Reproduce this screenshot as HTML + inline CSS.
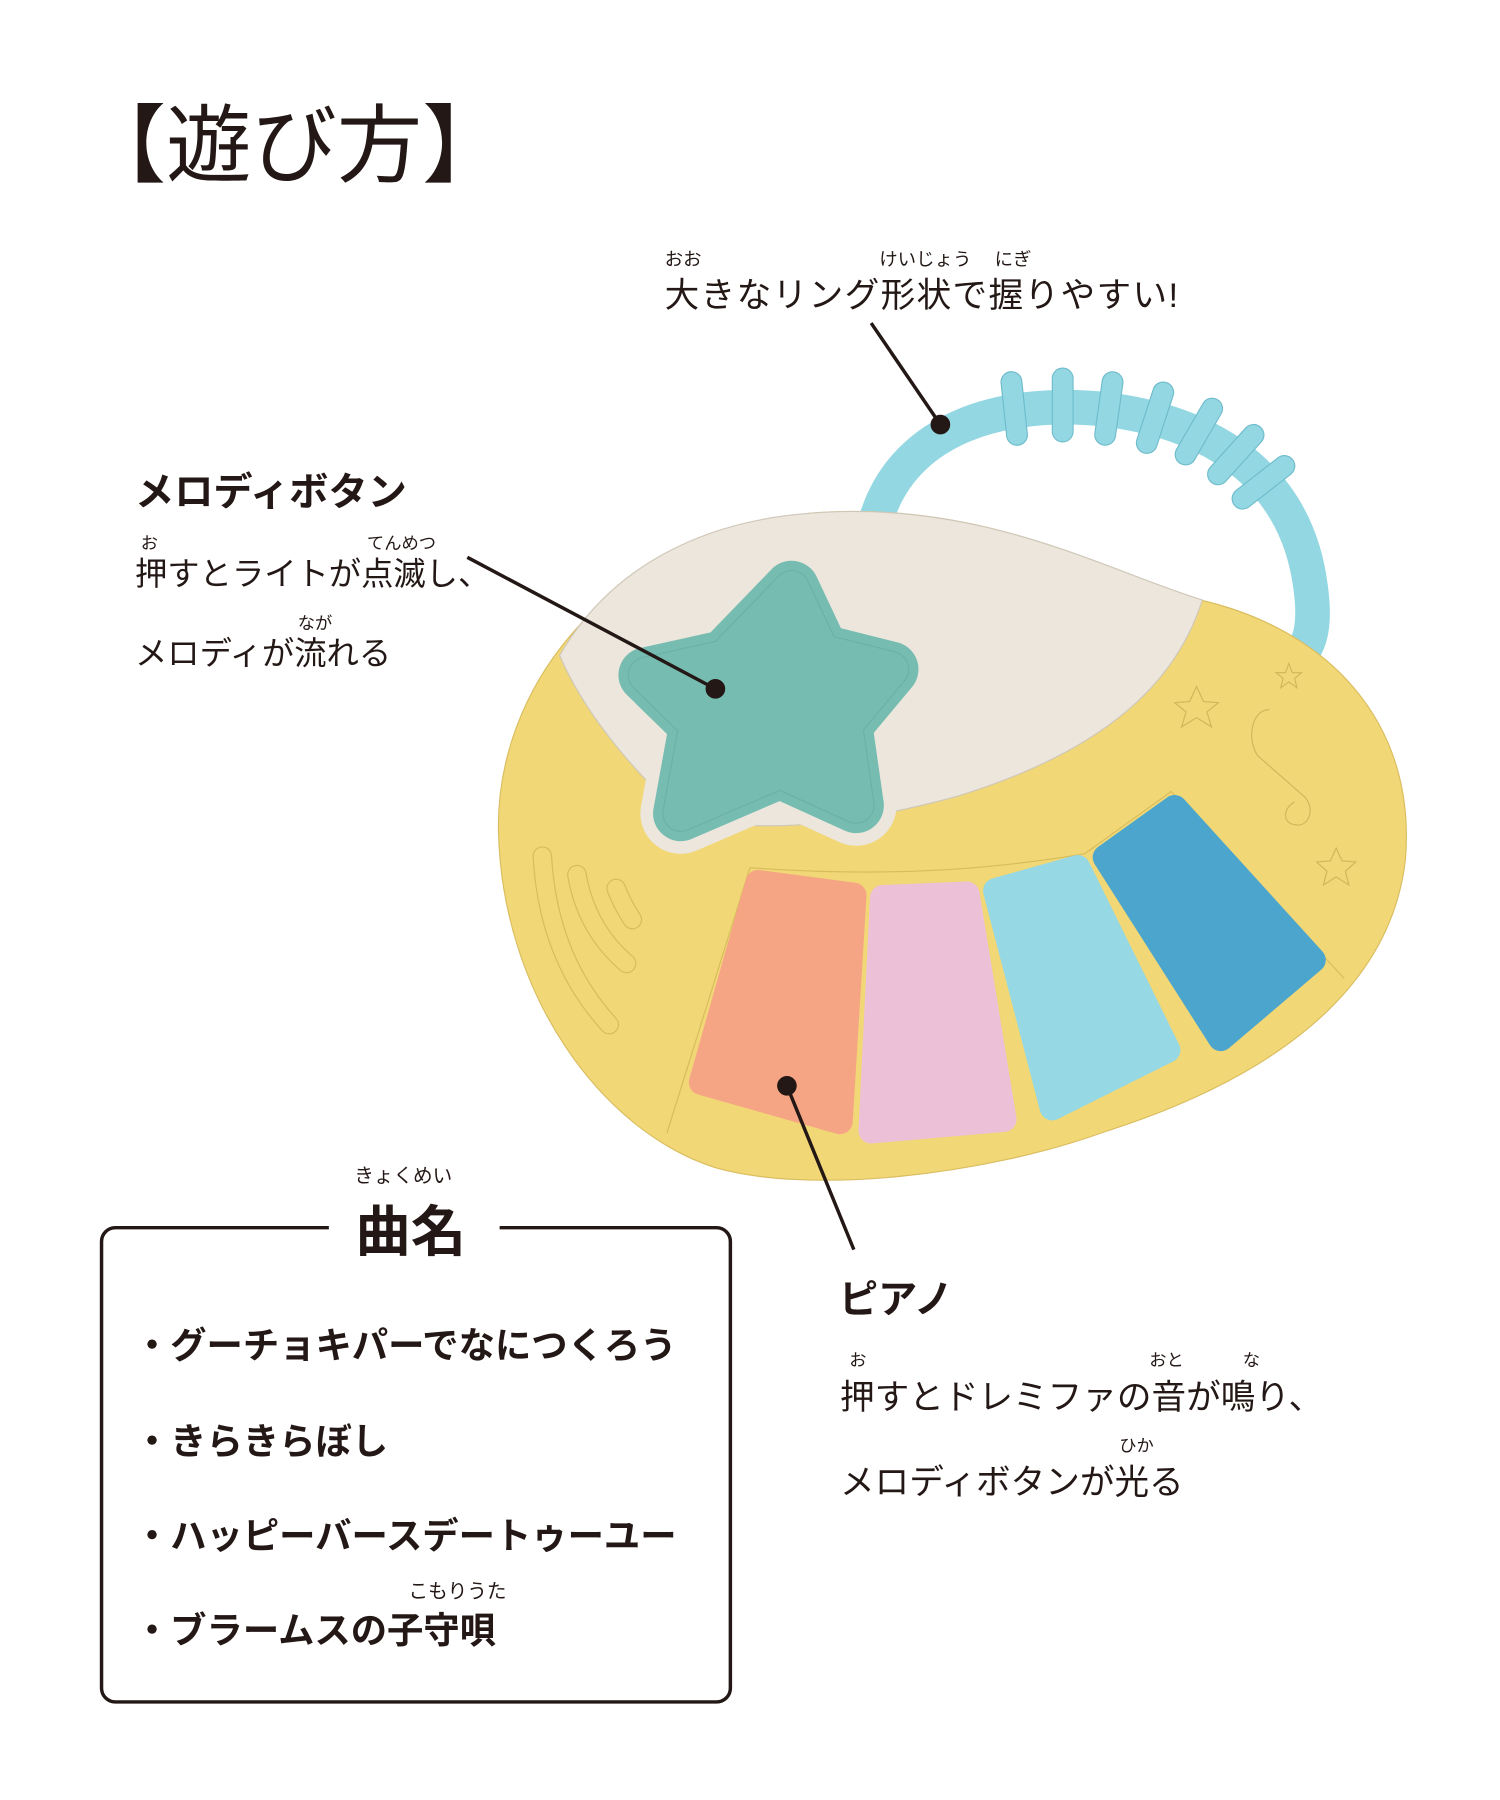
<!DOCTYPE html>
<html><head><meta charset="utf-8"><style>
html,body{margin:0;padding:0;background:#fff}
svg{display:block}
text{font-family:"Liberation Sans","Noto Sans CJK JP",sans-serif;fill:#231815}
.b{font-weight:700}
</style></head><body>
<svg width="1500" height="1800" viewBox="0 0 1300 1560" xmlns="http://www.w3.org/2000/svg">
<text x="70" y="152" font-size="74">【遊び方】</text>

<!-- ring -->
<path d="M760 448 C785 370 870 345 960 355 C1060 368 1125 420 1136 510 C1140 540 1136 556 1128 566" fill="none" stroke="#93d7e3" stroke-width="30"/>
<g fill="#93d7e3" stroke="#6fbccb" stroke-width="1">
<rect x="870" y="322" width="18" height="64" rx="9" transform="rotate(-6 879 354)"/>
<rect x="912" y="319" width="18" height="64" rx="9" transform="rotate(0 921 351)"/>
<rect x="952" y="322" width="18" height="64" rx="9" transform="rotate(8 961 354)"/>
<rect x="992" y="330" width="18" height="64" rx="9" transform="rotate(18 1001 362)"/>
<rect x="1030" y="342" width="18" height="64" rx="9" transform="rotate(30 1039 374)"/>
<rect x="1062" y="362" width="18" height="64" rx="9" transform="rotate(42 1071 394)"/>
<rect x="1086" y="386" width="18" height="64" rx="9" transform="rotate(52 1095 418)"/>
</g>

<!-- body -->
<path d="M432 720 C430 600 520 470 700 445 C850 432 960 495 1040 520 C1150 545 1228 625 1218 745 C1205 860 1100 935 960 980 C850 1020 700 1035 620 1012 C520 980 435 860 432 720 Z" fill="#f1d776" stroke="#d9bd60" stroke-width="1"/>
<path d="M485 568 C530 490 610 452 700 445 C850 432 960 495 1042 520 C1020 590 960 650 830 690 C720 720 640 722 590 705 C545 665 505 615 485 568 Z" fill="#ece6dc" stroke="#cfc7b8" stroke-width="1"/>

<!-- star -->
<polygon points="686,510 712,565 772,580 732,628 742,698 676,668 590,705 604,628 560,585 628,570" fill="#ece6dc" stroke="#ece6dc" stroke-width="70" stroke-linejoin="round"/>
<polygon points="686,510 712,565 772,580 732,628 742,698 676,668 590,705 604,628 560,585 628,570" fill="#76bcb1" stroke="#76bcb1" stroke-width="48" stroke-linejoin="round"/>
<polygon points="686,510 712,565 772,580 732,628 742,698 676,668 590,705 604,628 560,585 628,570" fill="none" stroke="#5a9e93" stroke-width="32" stroke-linejoin="round" stroke-opacity="0.35"/>
<polygon points="686,510 712,565 772,580 732,628 742,698 676,668 590,705 604,628 560,585 628,570" fill="#76bcb1" stroke="#76bcb1" stroke-width="30" stroke-linejoin="round"/>

<!-- speaker arcs -->
<g fill="none" stroke-linecap="round">
<path d="M470 742 Q475 830 528 888" stroke="#d8bc5c" stroke-width="17"/>
<path d="M470 742 Q475 830 528 888" stroke="#f1d776" stroke-width="15"/>
<path d="M500 758 Q508 805 543 835" stroke="#d8bc5c" stroke-width="17"/>
<path d="M500 758 Q508 805 543 835" stroke="#f1d776" stroke-width="15"/>
<path d="M534 770 Q540 785 548 797" stroke="#d8bc5c" stroke-width="17"/>
<path d="M534 770 Q540 785 548 797" stroke="#f1d776" stroke-width="15"/>
</g>
<!-- decorations -->
<g fill="none" stroke="#d2b65a" stroke-width="1">
<polygon points="1037,595 1043,608 1056,609 1046,617 1050,630 1037,622 1024,630 1028,617 1018,609 1031,608"/>
<polygon points="1117,575 1120,583 1128,583 1122,588 1124,596 1117,591 1110,596 1112,588 1106,583 1114,583"/>
<polygon points="1158,735 1163,746 1175,747 1166,755 1169,767 1158,760 1147,767 1150,755 1141,747 1153,746"/>
<path d="M1100 615 C1085 615 1080 640 1090 655 L1130 690 C1140 700 1135 715 1125 715 C1110 715 1112 700 1122 695"/>
</g>
<!-- key area groove -->
<path d="M650 752 C760 760 850 755 940 740 L1015 686 L1165 848 M578 982 L650 752" fill="none" stroke="#d8bc5c" stroke-width="1"/>

<!-- keys -->
<g stroke-linejoin="round" stroke-width="22">
<polygon points="657,765 740,776 728,972 608,938" fill="#f6a584" stroke="#f6a584"/>
<polygon points="765,778 838,775 870,970 755,980" fill="#ecc1d7" stroke="#ecc1d7"/>
<polygon points="863,772 934,752 1012,910 912,960" fill="#96d8e4" stroke="#96d8e4"/>
<polygon points="958,743 1018,700 1138,832 1058,900" fill="#4ba5cd" stroke="#4ba5cd"/>
</g>

<!-- leader lines -->
<g stroke="#231815" stroke-width="3" fill="#231815">
<line x1="755" y1="280" x2="815" y2="368"/><circle cx="815" cy="368" r="7"/>
<line x1="405" y1="483" x2="620" y2="597"/><circle cx="620" cy="597" r="7"/>
<line x1="682" y1="941" x2="740" y2="1083"/><circle cx="682" cy="941" r="7"/>
</g>

<!-- top label -->
<text x="576" y="230" font-size="16">おお</text>
<text x="762" y="230" font-size="16">けいじょう</text>
<text x="862" y="230" font-size="16">にぎ</text>
<text x="576" y="266" font-size="30" letter-spacing="1.2">大きなリング形状で握りやすい!</text>

<!-- melody -->
<text x="117" y="438" font-size="34" class="b">メロディボタン</text>
<text x="122" y="476" font-size="15">お</text>
<text x="318" y="476" font-size="15">てんめつ</text>
<text x="117" y="507" font-size="28">押すとライトが点滅し、</text>
<text x="258" y="545" font-size="15">なが</text>
<text x="117" y="576" font-size="28">メロディが流れる</text>

<!-- piano -->
<text x="727" y="1138" font-size="34" class="b">ピアノ</text>
<text x="736" y="1184" font-size="15">お</text>
<text x="996" y="1184" font-size="15">おと</text>
<text x="1077" y="1184" font-size="15">な</text>
<text x="728" y="1221" font-size="30">押すとドレミファの音が鳴り、</text>
<text x="970" y="1258" font-size="15">ひか</text>
<text x="728" y="1295" font-size="30">メロディボタンが光る</text>

<!-- box -->
<rect x="88" y="1064" width="545" height="411" rx="12" fill="none" stroke="#231815" stroke-width="3"/>
<rect x="285" y="1050" width="148" height="30" fill="#fff"/>
<text x="307" y="1025" font-size="17">きょくめい</text>
<text x="308" y="1084" font-size="48" class="b">曲名</text>
<g font-size="31.5" class="b">
<text x="116" y="1177" class="b">・グーチョキパーでなにつくろう</text>
<text x="116" y="1260" class="b">・きらきらぼし</text>
<text x="116" y="1342" class="b">・ハッピーバースデートゥーユー</text>
<text x="354" y="1385" font-size="17" font-weight="400">こもりうた</text>
<text x="116" y="1424" class="b">・ブラームスの子守唄</text>
</g>
</svg>
</body></html>
